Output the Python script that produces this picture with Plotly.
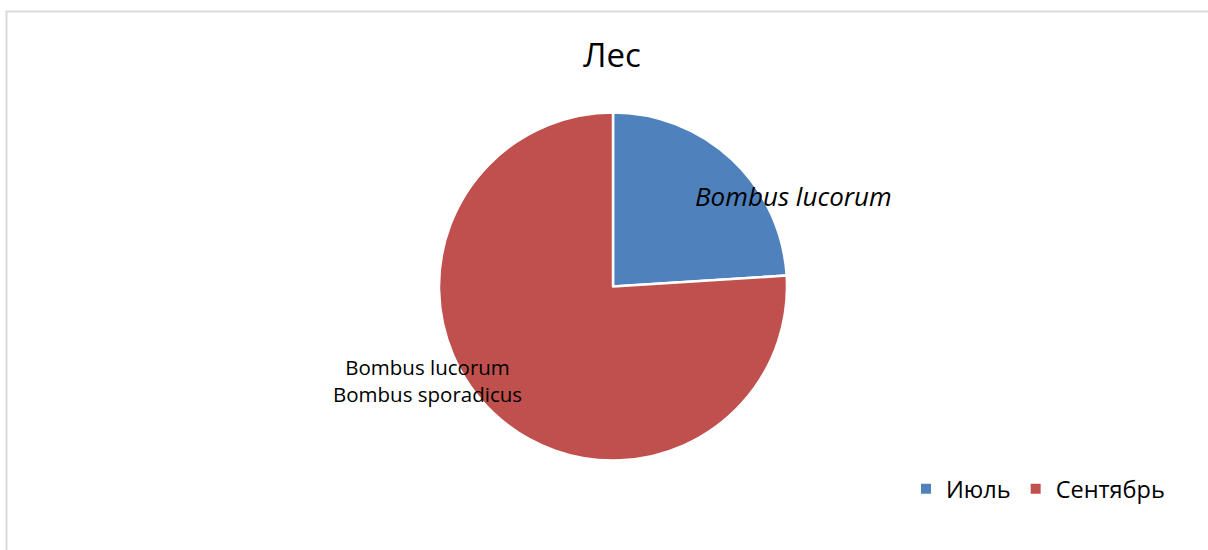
import plotly.graph_objects as go

# Bumblebee records in the forest plot, by month
months = ["Июль", "Сентябрь"]
counts = [6, 19]
slice_colors = ["#4F81BD", "#C0504D"]
species_labels = ["<i>Bombus lucorum</i>", "Bombus lucorum<br>Bombus sporadicus"]
label_sizes = [26, 20.5]
title_text = "Лес"

FONT = "Open Sans, Liberation Sans, sans-serif"

fig = go.Figure()
fig.add_trace(go.Pie(
    labels=months,
    values=counts,
    sort=False,
    direction="clockwise",
    rotation=0,
    marker=dict(colors=slice_colors, line=dict(color="white", width=2.5)),
    textinfo="none",
    hoverinfo="label+value+percent",
    domain=dict(x=[439 / 1208, 787 / 1208], y=[89 / 550, 438 / 550]),
))

# species names written on / beside each slice
label_pos = [(793 / 1208, 1 - 196 / 550), (427 / 1208, 1 - 380 / 550)]
for txt, size, (lx, ly) in zip(species_labels, label_sizes, label_pos):
    fig.add_annotation(
        text=txt, x=lx, y=ly, xref="paper", yref="paper",
        xanchor="center", yanchor="middle", showarrow=False,
        font=dict(family=FONT, size=size, color="black"),
    )

# chart frame
fig.add_shape(
    type="rect", xref="paper", yref="paper",
    x0=6.5 / 1208, x1=1.02, y0=-0.02, y1=1 - 11.5 / 550,
    line=dict(color="#D9D9D9", width=2), fillcolor="rgba(0,0,0,0)",
)

fig.update_layout(
    width=1208, height=550,
    margin=dict(l=0, r=0, t=0, b=0),
    paper_bgcolor="white", plot_bgcolor="white",
    title=dict(text=title_text, x=612 / 1208, xanchor="center",
               y=1 - 55 / 550, yanchor="middle",
               font=dict(family=FONT, size=33, color="black")),
    showlegend=True,
    legend=dict(orientation="h", x=906 / 1208, xanchor="left",
                y=1 - 489 / 550, yanchor="middle",
                font=dict(family=FONT, size=23.5, color="black"),
                itemsizing="constant", itemwidth=30,
                bgcolor="rgba(0,0,0,0)"),
)

fig.write_html("out.html")
